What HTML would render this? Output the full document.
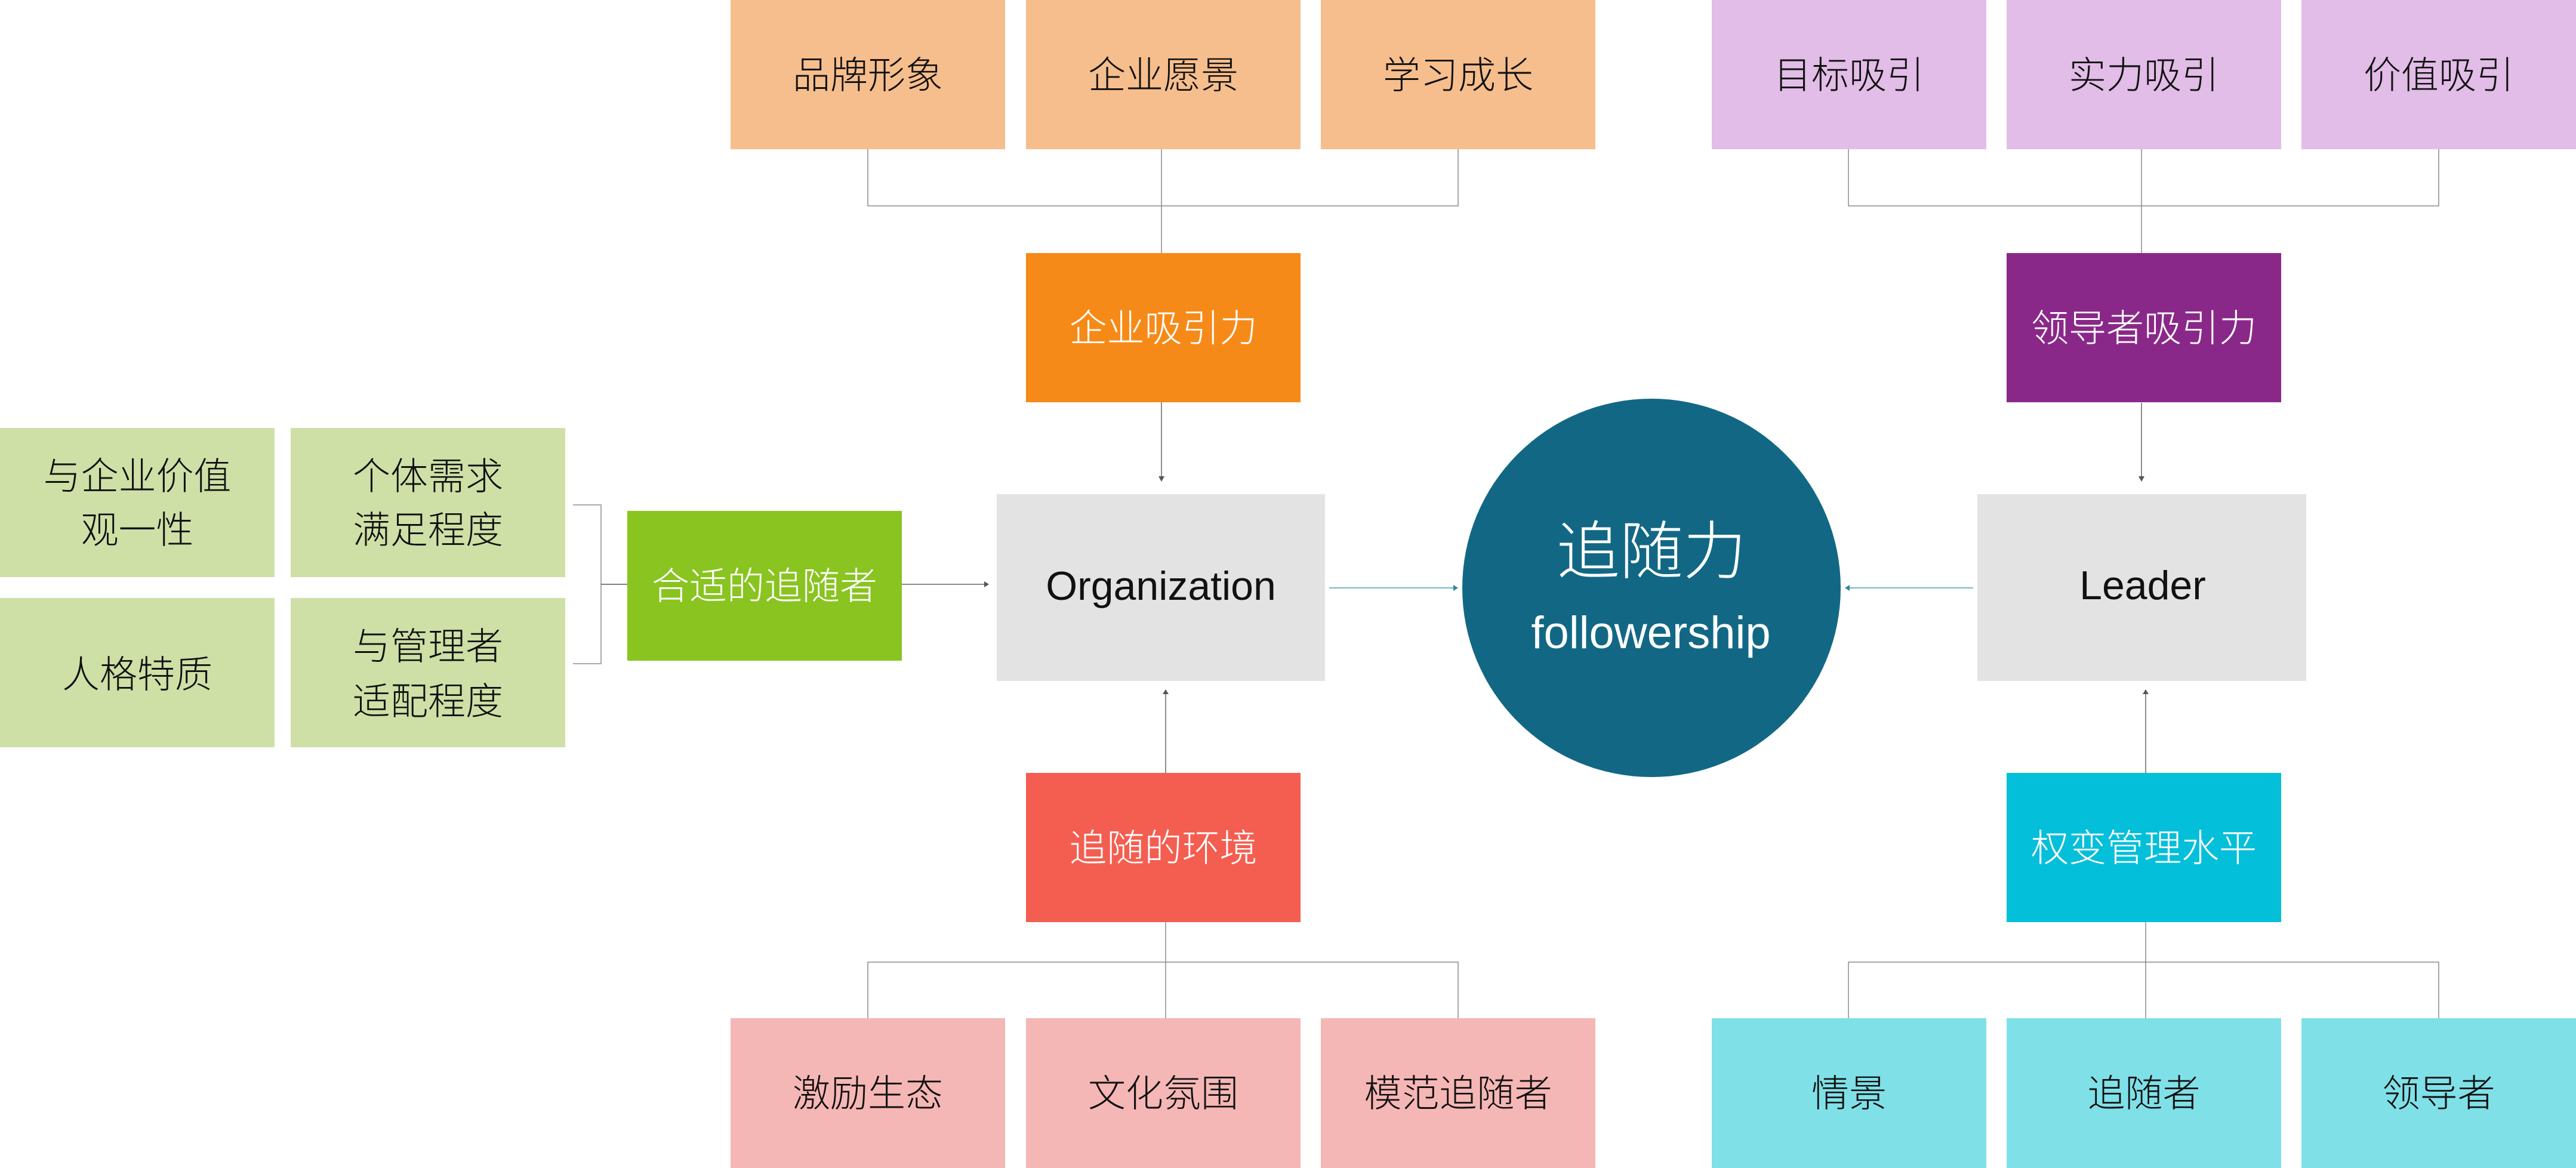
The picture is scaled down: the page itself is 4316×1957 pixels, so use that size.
<!DOCTYPE html>
<html>
<head>
<meta charset="utf-8">
<style>
html,body{margin:0;padding:0;background:#fff;}
body{width:4316px;height:1957px;overflow:hidden;}
svg{display:block;}
text{font-family:"Liberation Sans","Noto Sans CJK SC",sans-serif;}
</style>
</head>
<body>
<svg width="4316" height="1957" viewBox="0 0 4316 1957" xmlns="http://www.w3.org/2000/svg">
  <rect x="0" y="0" width="4316" height="1957" fill="#ffffff"/>

  <!-- Top connectors -->
  <g stroke="#8c8c8c" stroke-width="1.5" fill="none">
    <polyline points="1454,250 1454,345 2443,345 2443,250"/>
    <line x1="1946" y1="250" x2="1946" y2="424"/>
    <polyline points="3097,250 3097,345 4086,345 4086,250"/>
    <line x1="3588" y1="250" x2="3588" y2="424"/>
    <!-- Bottom connectors -->
    <polyline points="1454,1706 1454,1612 2443,1612 2443,1706"/>
    <line x1="1953" y1="1545" x2="1953" y2="1706"/>
    <polyline points="3097,1706 3097,1612 4086,1612 4086,1706"/>
    <line x1="3595" y1="1545" x2="3595" y2="1706"/>
  </g>

  <!-- Vertical arrows -->
  <g stroke="#666" stroke-width="1.5">
    <line x1="1946" y1="674" x2="1946" y2="800"/>
    <line x1="1953" y1="1295" x2="1953" y2="1162"/>
    <line x1="3588" y1="675" x2="3588" y2="800"/>
    <line x1="3595" y1="1295" x2="3595" y2="1162"/>
    <line x1="1511" y1="979" x2="1649" y2="979"/>
  </g>
  <g fill="#555">
    <polygon points="1941,798 1951,798 1946,807"/>
    <polygon points="1948,1163 1958,1163 1953,1155"/>
    <polygon points="3583,798 3593,798 3588,807"/>
    <polygon points="3590,1163 3600,1163 3595,1155"/>
    <polygon points="1649,974 1649,984 1657,979"/>
  </g>

  <!-- Bracket -->
  <polyline points="960,846 1007,846 1007,1112 960,1112" stroke="#aaaaaa" stroke-width="2" fill="none"/>
  <line x1="1007" y1="979" x2="1051" y2="979" stroke="#555" stroke-width="1.5"/>

  <!-- Teal arrows -->
  <line x1="2227" y1="985" x2="2436" y2="985" stroke="#8bbfc6" stroke-width="2.5"/>
  <polygon points="2435,980 2435,990 2443,985" fill="#2a8a9a"/>
  <line x1="3306" y1="985" x2="3098" y2="985" stroke="#8bbfc6" stroke-width="2.5"/>
  <polygon points="3099,980 3099,990 3091,985" fill="#2a8a9a"/>

  <!-- Top orange boxes -->
  <g fill="#F6BE8D">
    <rect x="1224" y="0" width="460" height="250"/>
    <rect x="1719" y="0" width="460" height="250"/>
    <rect x="2213" y="0" width="460" height="250"/>
  </g>
  <!-- Top purple boxes -->
  <g fill="#E2BDE7">
    <rect x="2868" y="0" width="460" height="250"/>
    <rect x="3362" y="0" width="460" height="250"/>
    <rect x="3856" y="0" width="460" height="250"/>
  </g>

  <!-- Middle row boxes -->
  <rect x="1719" y="424" width="460" height="250" fill="#F68A18"/>
  <rect x="3362" y="424" width="460" height="250" fill="#8A2889"/>

  <rect x="1670" y="828" width="550" height="313" fill="#E3E3E3"/>
  <rect x="3313" y="828" width="551" height="313" fill="#E3E3E3"/>

  <circle cx="2767" cy="985" r="317" fill="#126884"/>

  <rect x="1719" y="1295" width="460" height="250" fill="#F45E50"/>
  <rect x="3362" y="1295" width="460" height="250" fill="#04BFDA"/>

  <!-- Green left boxes -->
  <g fill="#CEE0A6">
    <rect x="0" y="717" width="460" height="250"/>
    <rect x="487" y="717" width="460" height="250"/>
    <rect x="0" y="1002" width="460" height="250"/>
    <rect x="487" y="1002" width="460" height="250"/>
  </g>
  <rect x="1051" y="856" width="460" height="251" fill="#89C420"/>

  <!-- Bottom boxes -->
  <g fill="#F5B7B5">
    <rect x="1224" y="1706" width="460" height="251"/>
    <rect x="1719" y="1706" width="460" height="251"/>
    <rect x="2213" y="1706" width="460" height="251"/>
  </g>
  <g fill="#80E0E8">
    <rect x="2868" y="1706" width="460" height="251"/>
    <rect x="3362" y="1706" width="460" height="251"/>
    <rect x="3856" y="1706" width="460" height="251"/>
  </g>

  <!-- Texts dark -->
  <g fill="#111" font-size="63" font-weight="300" text-anchor="middle">
    <text x="1454" y="148">品牌形象</text>
    <text x="1949" y="148">企业愿景</text>
    <text x="2443" y="148">学习成长</text>
    <text x="3098" y="148">目标吸引</text>
    <text x="3592" y="148">实力吸引</text>
    <text x="4086" y="148">价值吸引</text>

    <text x="230" y="820">与企业价值</text>
    <text x="230" y="910">观一性</text>
    <text x="717" y="820">个体需求</text>
    <text x="717" y="910">满足程度</text>
    <text x="230" y="1152">人格特质</text>
    <text x="717" y="1105">与管理者</text>
    <text x="717" y="1197">适配程度</text>

    <text x="1454" y="1854">激励生态</text>
    <text x="1949" y="1854">文化氛围</text>
    <text x="2443" y="1854">模范追随者</text>
    <text x="3098" y="1854">情景</text>
    <text x="3592" y="1854">追随者</text>
    <text x="4086" y="1854">领导者</text>
  </g>

  <!-- Texts white -->
  <g fill="#fff" font-size="63" font-weight="300" text-anchor="middle">
    <text x="1949" y="572">企业吸引力</text>
    <text x="3592" y="572">领导者吸引力</text>
    <text x="1281" y="1004">合适的追随者</text>
    <text x="1949" y="1443">追随的环境</text>
    <text x="3592" y="1443">权变管理水平</text>
  </g>

  <g fill="#111" font-size="68" text-anchor="middle">
    <text x="1945" y="1005">Organization</text>
    <text x="3590" y="1004">Leader</text>
  </g>

  <g fill="#fff" text-anchor="middle">
    <text x="2767" y="961" font-size="106" font-weight="300">追随力</text>
    <text x="2766" y="1086" font-size="76">followership</text>
  </g>
</svg>
</body>
</html>
